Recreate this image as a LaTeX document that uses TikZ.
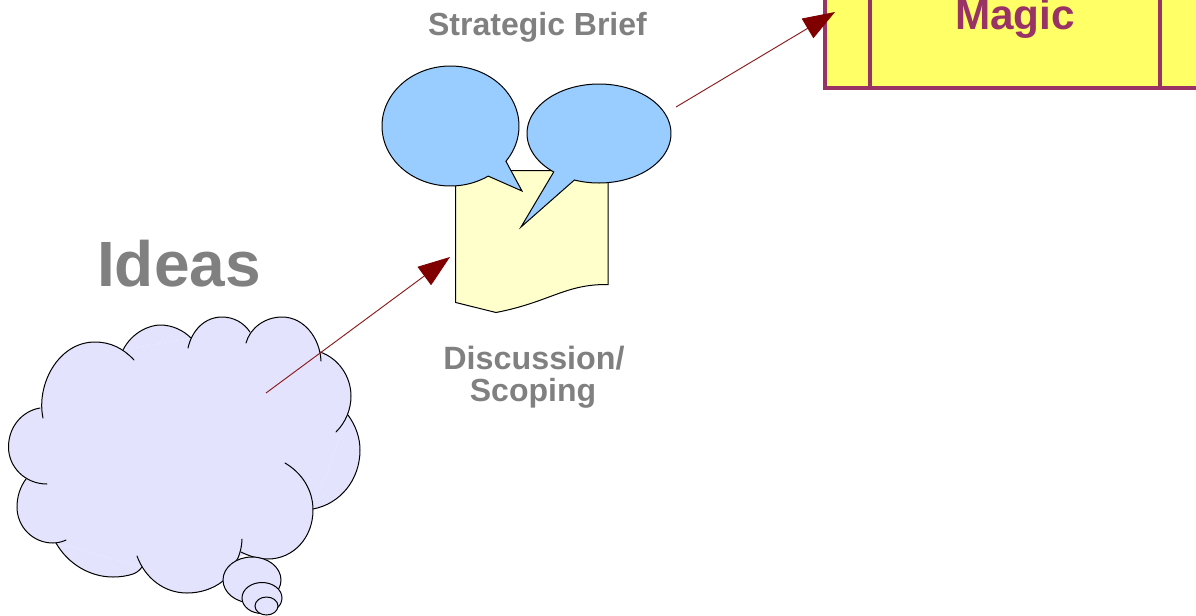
\documentclass[tikz,border=0pt]{standalone}
\usepackage{fontspec}
\setmainfont{Liberation Sans}
\usetikzlibrary{arrows.meta}
\definecolor{cloudc}{HTML}{E3E3FD}
\definecolor{bubblec}{HTML}{99CCFF}
\definecolor{docc}{HTML}{FFFFCC}
\definecolor{boxc}{HTML}{FFFF66}
\definecolor{boxline}{HTML}{993366}
\definecolor{headc}{HTML}{800000}
\definecolor{linec}{HTML}{8B1A1A}
\definecolor{labelc}{HTML}{808080}
\tikzset{
  outl/.style={draw=black,line width=0.75pt},
  lobe/.style={draw=black,line width=0.75pt,line cap=round},
  arrowline/.style={draw=linec,line width=0.7pt,-{Triangle[length=24pt,width=17pt,color=headc]}},
  lbl/.style={font=\bfseries,text=labelc,anchor=base,inner sep=0pt},
  boxl/.style={draw=boxline,line width=2.3pt}
}
\newcommand{\lobeA}{(43,418) .. controls (36,385) and (58,342) .. (95,342) .. controls (110,342) and (123,348) .. (134,360)}
\newcommand{\lobeB}{(123,350) .. controls (132,332) and (150,325) .. (160,325) .. controls (172,325) and (183,330) .. (191,338)}
\newcommand{\lobeC}{(188,348) .. controls (192,330) and (205,317) .. (222,317) .. controls (234,317) and (244,323) .. (250,332)}
\newcommand{\lobeD}{(246,343) .. controls (250,328) and (265,317) .. (282,317) .. controls (304,317) and (320,338) .. (321,361)}
\newcommand{\lobeE}{(320,352) .. controls (338,358) and (351,376) .. (351,396) .. controls (351,409) and (346,422) .. (336,432)}
\newcommand{\lobeF}{(348,415) .. controls (356,426) and (360,438) .. (360,450) .. controls (360,480) and (340,504) .. (313,509)}
\newcommand{\lobeG}{(285,463) .. controls (302,473) and (313,490) .. (313,510) .. controls (313,538) and (293,559) .. (268,559) .. controls (258,559) and (249,556) .. (241,552)}
\newcommand{\lobeH}{(242,539) .. controls (242,546) and (240,553) .. (238,558) -- (223,581) .. controls (213,589) and (200,593) .. (187,593) .. controls (164,593) and (145,578) .. (137,556)}
\newcommand{\lobeI}{(142,567) .. controls (139,571) and (136,573) .. (133,574) .. controls (127,576) and (120,577) .. (113,577) .. controls (90,577) and (68,564) .. (56,543)}
\newcommand{\lobeJ}{(66,540) .. controls (62,542) and (57,543) .. (53,543) .. controls (33,543) and (17,527) .. (17,507) .. controls (17,497) and (20,487) .. (26,479)}
\newcommand{\lobeK}{(47,484) .. controls (25,484) and (8.5,467) .. (8.5,447) .. controls (8.5,427) and (22,411) .. (40,408)}
\begin{document}
\begin{tikzpicture}[x=0.75pt,y=-0.75pt]
\useasboundingbox (0,0) rectangle (1196,615);
\clip (0,0) rectangle (1196,615);
% magic box
\path[fill=boxc,boxl] (825,-40) -- (825,88) -- (1240,88) -- (1240,-40) -- cycle;
\draw[boxl] (870,-40) -- (870,88);
\draw[boxl] (1160,-40) -- (1160,88);
\node[font=\bfseries,text=boxline,anchor=base,inner sep=0pt] (magic) at (1015,29) {\fontsize{31.7pt}{34pt}\selectfont Magic};
% cloud fill
\fill[cloudc] (40,408) -- (123,350) -- (191,338) -- (250,332) -- (320,352) -- (348,415) -- (313,509) -- (238,558) -- (142,567) -- (56,543) -- (26,479) -- cycle;
\foreach \L in {\lobeA,\lobeB,\lobeC,\lobeD,\lobeE,\lobeF,\lobeG,\lobeH,\lobeI,\lobeJ,\lobeK}{
  \fill[cloudc] \L -- cycle;
}
\foreach \L in {\lobeA,\lobeB,\lobeC,\lobeD,\lobeE,\lobeF,\lobeG,\lobeH,\lobeI,\lobeJ,\lobeK}{
  \draw[lobe] \L;
}
% thought bubbles
\draw[outl,fill=cloudc] (252,580) ellipse [x radius=29,y radius=23];
\draw[outl,fill=cloudc] (262,598) ellipse [x radius=20,y radius=15.5];
\draw[outl,fill=cloudc] (266.5,606) ellipse [x radius=11.5,y radius=9];
% document
\path[outl,fill=docc] (455.7,170.7) -- (608,170.7) -- (608,284.5)
  .. controls (565,284) and (550,302) .. (496,312.5) -- (455.7,302.5) -- cycle;
% speech bubbles
\path[outl,fill=bubblec] plot[domain=56.6:396,samples=120] ({450.5+68.5*cos(\x)},{126+60*sin(\x)}) -- (522,191) -- cycle;
\path[outl,fill=bubblec] plot[domain=129:470,samples=120] ({599+72*cos(\x)},{133.5+49.5*sin(\x)}) -- (521,227) -- cycle;
% labels
\node[lbl] (ideas) at (179,286) {\fontsize{48pt}{50pt}\selectfont Ideas};
\node[lbl] (brief) at (537.5,35.5) {\fontsize{24pt}{26pt}\selectfont Strategic Brief};
\node[lbl] (disc) at (534,369) {\fontsize{24.2pt}{26pt}\selectfont Discussion/};
\node[lbl] (scop) at (533,401) {\fontsize{24pt}{26pt}\selectfont Scoping};
% arrows
\coordinate (a1s) at (266,393);
\coordinate (a1e) at (450,257);
\coordinate (a2s) at (676,107);
\coordinate (a2e) at (835,12);
\draw[arrowline] (a1s) -- (a1e);
\draw[arrowline] (a2s) -- (a2e);
\end{tikzpicture}
\end{document}
